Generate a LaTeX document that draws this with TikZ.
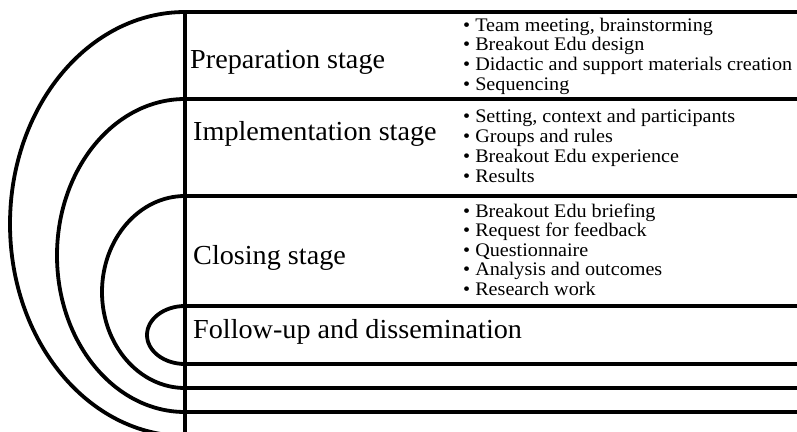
\documentclass[tikz,border=0pt]{standalone}
\usepackage{fontspec}
\setmainfont{Liberation Serif}
\newfontfamily\labelfont[FakeStretch=1.025]{Liberation Serif}
\newfontfamily\listfont[FakeStretch=1.05]{Liberation Serif}
\begin{document}
\begin{tikzpicture}[x=1pt,y=-1pt,
  ushape/.style={draw=black,line width=3.8pt},
  stagelabel/.style={anchor=base west,inner sep=0pt,font=\labelfont\fontsize{27.5}{30}\selectfont},
  bulletlist/.style={anchor=base west,inner sep=0pt,align=left,font=\listfont\fontsize{19.2}{19.6}\selectfont}]
\useasboundingbox (0,0) rectangle (797,431);
% nested U shapes
\coordinate (pt) at (185,12);
\coordinate (it) at (185,99);
\coordinate (ct) at (185,196);
\coordinate (ft) at (185,306);
\draw[ushape] (810,12) -- (pt) arc[start angle=90,end angle=270,x radius=175pt,y radius=212pt] -- (810,436);
\draw[ushape] (810,99) -- (it) arc[start angle=90,end angle=270,x radius=128pt,y radius=156.5pt] -- (810,412);
\draw[ushape] (810,196) -- (ct) arc[start angle=90,end angle=270,x radius=83pt,y radius=96pt] -- (810,388);
\draw[ushape] (810,306) -- (ft) arc[start angle=90,end angle=270,x radius=38pt,y radius=29pt] -- (810,364);
% vertical line
\coordinate (vb) at (185,440);
\draw[line width=3.4pt] (185,10.1) -- (vb);
% stage labels
\node[stagelabel] (prep) at (190,68) {Preparation stage};
\node[stagelabel] (impl) at (193,140) {Implementation stage};
\node[stagelabel] (clos) at (193,264) {Closing stage};
\node[stagelabel] (foll) at (193,338) {Follow-up and dissemination};
% bullet lists (anchored at the baseline of their last line)
\node[bulletlist] (prepl) at (463,90) {• Team meeting, brainstorming\\• Breakout Edu design\\• Didactic and support materials creation\\• Sequencing};
\node[bulletlist,font=\listfont\fontsize{19.2}{20}\selectfont] (impll) at (463,182) {• Setting, context and participants\\• Groups and rules\\• Breakout Edu experience\\• Results};
\node[bulletlist,font=\listfont\fontsize{19.2}{19.5}\selectfont] (closl) at (463,295) {• Breakout Edu briefing\\• Request for feedback\\• Questionnaire\\• Analysis and outcomes\\• Research work};
\end{tikzpicture}
\end{document}
